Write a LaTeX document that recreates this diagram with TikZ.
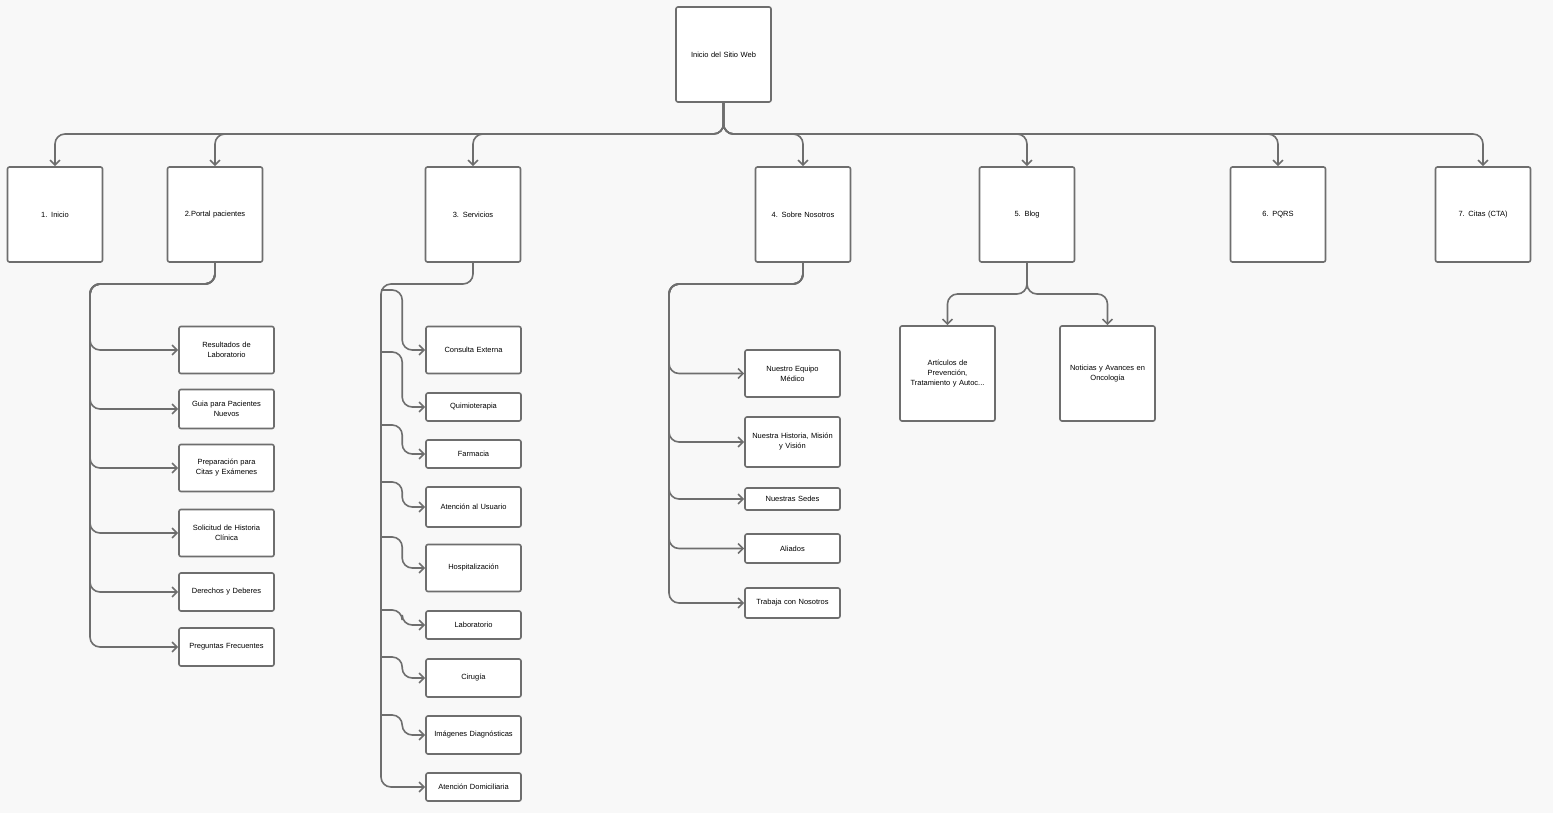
\documentclass[tikz,border=0pt]{standalone}
\usepackage{fontspec}
\setmainfont{Liberation Sans}
\usetikzlibrary{arrows.meta, positioning}
\definecolor{linegray}{HTML}{6E6E6E}
\definecolor{bggray}{HTML}{F8F8F8}

\begin{document}
\begin{tikzpicture}[
  x=1pt, y=-1pt,
  every node/.style={font=\fontsize{7.5}{10}\selectfont, align=center},
  page/.style={rectangle, draw=linegray, line width=1.6pt, fill=white, rounded corners=2pt,
    minimum width=95pt, minimum height=95pt, inner sep=3pt, text width=85pt},
  sub/.style={rectangle, draw=linegray, line width=1.6pt, fill=white, rounded corners=2pt,
    minimum width=95pt, inner sep=3pt, text width=85pt},
  link/.style={draw=linegray, line width=1.6pt, rounded corners=10pt, -{Straight Barb[length=5pt, width=10pt]}},
  trunk/.style={draw=linegray, line width=1.6pt, rounded corners=10pt}
]
\fill[bggray] (0,0) rectangle (1553,813);
\useasboundingbox (0,0) rectangle (1553,813);

% root and first level
\node[page] (root) at (723.5,54.5) {Inicio del Sitio Web};
\node[page] (inicio) at (55,214.5) {1. Inicio};
\node[page] (portal) at (215,214.5) {2.Portal pacientes};
\node[page] (serv) at (473,214.5) {3. Servicios};
\node[page] (nos) at (803,214.5) {4. Sobre Nosotros};
\node[page] (blog) at (1027,214.5) {5. Blog};
\node[page] (pqrs) at (1278,214.5) {6. PQRS};
\node[page] (citas) at (1483,214.5) {7. Citas (CTA)};

\coordinate (bus) at (723.5,134);
\foreach \n in {inicio,portal,serv,nos,blog,pqrs,citas}
  \draw[link] (root.south) |- (bus) -| (\n.north);

% portal pacientes
\node[sub, minimum height=47pt] (res) at (226.5,350) {Resultados de\\Laboratorio};
\node[sub, minimum height=39pt] (guia) at (226.5,409) {Guia para Pacientes\\Nuevos};
\node[sub, minimum height=47pt] (prep) at (226.5,468) {Preparación para\\Citas y Exámenes};
\node[sub, minimum height=47pt] (soli) at (226.5,533) {Solicitud de Historia\\Clínica};
\node[sub, minimum height=38pt] (dere) at (226.5,592) {Derechos y Deberes};
\node[sub, minimum height=38pt] (preg) at (226.5,647) {Preguntas Frecuentes};
\coordinate (pt) at (90,284);
\foreach \n in {res,guia,prep,soli,dere,preg}
  \draw[link] (portal.south) |- (pt) |- (\n.west);

% servicios
\node[sub, minimum height=47pt] (cons) at (473.5,350) {Consulta Externa};
\node[sub, minimum height=28pt] (quim) at (473.5,407) {Quimioterapia};
\node[sub, minimum height=28pt] (farm) at (473.5,454) {Farmacia};
\node[sub, minimum height=40pt] (aten) at (473.5,507) {Atención al Usuario};
\node[sub, minimum height=47pt] (hosp) at (473.5,568) {Hospitalización};
\node[sub, minimum height=28pt] (labo) at (473.5,625) {Laboratorio};
\node[sub, minimum height=38pt] (ciru) at (473.5,678) {Cirugía};
\node[sub, minimum height=38pt] (imag) at (473.5,735) {Imágenes Diagnósticas};
\node[sub, minimum height=28pt] (domi) at (473.5,787) {Atención Domiciliaria};
\coordinate (st) at (381,284);
\draw[link] (serv.south) |- (st) |- (domi.west);
\foreach \n/\s in {cons/290, quim/352, farm/425, aten/482, hosp/537, labo/610, ciru/657, imag/715}
  \draw[link] (381,\s) -| ([xshift=-23pt]\n.west) -- (\n.west);

% sobre nosotros
\node[sub, minimum height=47pt] (equi) at (792.5,373.5) {Nuestro Equipo\\Médico};
\node[sub, minimum height=50pt] (hist) at (792.5,442) {Nuestra Historia, Misión\\y Visión};
\node[sub, minimum height=22pt] (sede) at (792.5,499) {Nuestras Sedes};
\node[sub, minimum height=29pt] (alia) at (792.5,548.5) {Aliados};
\node[sub, minimum height=30pt] (trab) at (792.5,603) {Trabaja con Nosotros};
\coordinate (nt) at (669,284);
\foreach \n in {equi,hist,sede,alia,trab}
  \draw[link] (nos.south) |- (nt) |- (\n.west);

% blog
\node[page] (arti) at (947.5,373.5) {Artículos de\\Prevención,\\Tratamiento y Autoc...};
\node[page] (noti) at (1107.5,373.5) {Noticias y Avances en\\Oncología};
\coordinate (bt) at (1027,294);
\foreach \n in {arti,noti}
  \draw[link] (blog.south) |- (bt) -| (\n.north);
\end{tikzpicture}
\end{document}
